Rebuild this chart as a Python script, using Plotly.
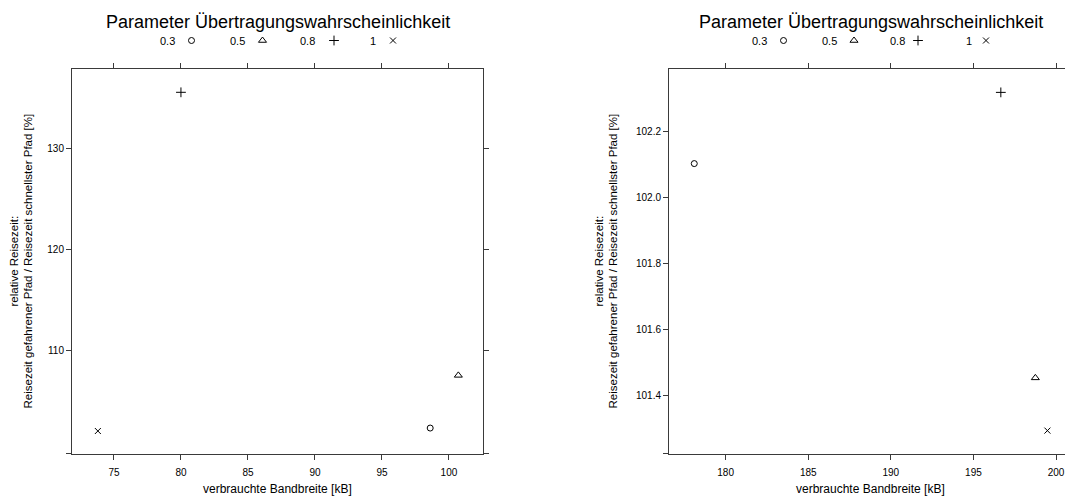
import plotly.graph_objects as go

# ---- data -------------------------------------------------------------
params = ["0.3", "0.5", "0.8", "1"]
symbols = ["circle-open", "triangle-up-open", "cross-thin-open", "x-thin-open"]
sizes = [6, 7, 7, 6]

left_bandwidth = [98.6, 100.7, 80.0, 73.8]
left_reltime = [102.37, 107.57, 135.5, 102.08]

right_bandwidth = [178.1, 198.75, 196.66, 199.48]
right_reltime = [102.102, 101.452, 102.318, 101.292]

left_xticks = [75, 80, 85, 90, 95, 100]
left_yticks = [110, 120, 130]
right_xticks = [180, 185, 190, 195, 200]
right_yticks = [101.4, 101.6, 101.8, 102.0, 102.2]

legend_title = "Parameter Übertragungswahrscheinlichkeit"
x_title = "verbrauchte Bandbreite [kB]"
y_title = "relative Reisezeit:<br>Reisezeit gefahrener Pfad / Reisezeit schnellster Pfad [%]"

# ---- layout constants (pixels) ----------------------------------------
W, H = 1065, 498
FONT = "Liberation Sans, Arial, sans-serif"
LINE = "#3a3a3a"

left_range_x = [71.87, 102.54]
left_range_y = [99.84, 137.77]
right_range_x = [176.57, 200.545]
right_range_y = [101.222, 102.388]

box_top, box_bot = 69.3, 453.7
left_box = (72, 483)
right_box = (669, 1065)

def px(x):
    return x / W

def py(y):
    return 1 - y / H

fig = go.Figure()

for i, p in enumerate(params):
    fig.add_trace(go.Scatter(
        x=[left_bandwidth[i]], y=[left_reltime[i]], mode="markers",
        marker=dict(symbol=symbols[i], size=sizes[i], color="black",
                    line=dict(color="black", width=1)),
        xaxis="x", yaxis="y", showlegend=False, name=p))
    fig.add_trace(go.Scatter(
        x=[right_bandwidth[i]], y=[right_reltime[i]], mode="markers",
        marker=dict(symbol=symbols[i], size=sizes[i], color="black",
                    line=dict(color="black", width=1)),
        xaxis="x2", yaxis="y2", showlegend=False, name=p))

# legend keys on a pixel overlay axis
legend_text_x = {"left": [167, 237, 307, 373], "right": [759, 829, 897, 969]}
legend_sym_x = {"left": [191.5, 262.5, 334, 393], "right": [783.5, 854, 918, 986]}
legend_y = 40.5
for side in ["left", "right"]:
    for i, p in enumerate(params):
        fig.add_trace(go.Scatter(
            x=[legend_sym_x[side][i]], y=[legend_y], mode="markers",
            marker=dict(symbol=symbols[i], size=sizes[i], color="black",
                        line=dict(color="black", width=1)),
            xaxis="x3", yaxis="y3", showlegend=False, hoverinfo="skip"))

annotations = []
for side, (b0, b1) in [("left", left_box), ("right", (669, 1072))]:
    cx = (b0 + b1) / 2
    annotations.append(dict(text=legend_title, x=px(cx), y=py(22), xref="paper", yref="paper",
                            showarrow=False, xanchor="center", yanchor="middle",
                            font=dict(size=18, family=FONT, color="black")))
    for i, p in enumerate(params):
        annotations.append(dict(text=p, x=px(legend_text_x[side][i]), y=py(legend_y),
                                xref="paper", yref="paper", showarrow=False,
                                xanchor="center", yanchor="middle",
                                font=dict(size=11, family=FONT, color="black")))
    annotations.append(dict(text=x_title, x=px(cx), y=py(489), xref="paper", yref="paper",
                            showarrow=False, xanchor="center", yanchor="middle",
                            font=dict(size=12, family=FONT, color="black")))

for ycx in [21, 606]:
    annotations.append(dict(text=y_title, x=px(ycx), y=py((box_top + box_bot) / 2),
                            xref="paper", yref="paper", showarrow=False, textangle=-90,
                            xanchor="center", yanchor="middle",
                            font=dict(size=11.5, family=FONT, color="black")))

axis_common = dict(showgrid=False, zeroline=False, showline=True, linecolor=LINE, linewidth=1,
                   ticks="outside", ticklen=5, tickwidth=1, tickcolor=LINE,
                   tickfont=dict(size=10, family=FONT, color="black"))

fig.update_layout(
    width=W, height=H, margin=dict(l=0, r=0, t=0, b=0),
    paper_bgcolor="white", plot_bgcolor="rgba(0,0,0,0)",
    showlegend=False,
    annotations=annotations,
    xaxis=dict(domain=[px(left_box[0]), px(left_box[1])], range=left_range_x,
               tickvals=left_xticks, mirror="allticks", anchor="y",
               ticklabelstandoff=4, **axis_common),
    yaxis=dict(domain=[py(box_bot), py(box_top)], range=left_range_y,
               tickvals=[left_range_y[0]] + left_yticks,
               ticktext=[""] + [str(v) for v in left_yticks],
               mirror="allticks", anchor="x", **axis_common),
    xaxis2=dict(domain=[px(right_box[0]), 1.0], range=right_range_x,
                tickvals=right_xticks, mirror="allticks", anchor="y2",
                ticklabelstandoff=4, **axis_common),
    yaxis2=dict(domain=[py(box_bot), py(box_top)], range=right_range_y,
                tickvals=[right_range_y[0]] + right_yticks,
                ticktext=[""] + ["%.1f" % v for v in right_yticks],
                mirror=False, anchor="x2", **axis_common),
    xaxis3=dict(domain=[0, 1], range=[0, W], visible=False, fixedrange=True),
    yaxis3=dict(domain=[0, 1], range=[H, 0], visible=False, fixedrange=True, anchor="x3"),
)

fig.write_html("out.html")
